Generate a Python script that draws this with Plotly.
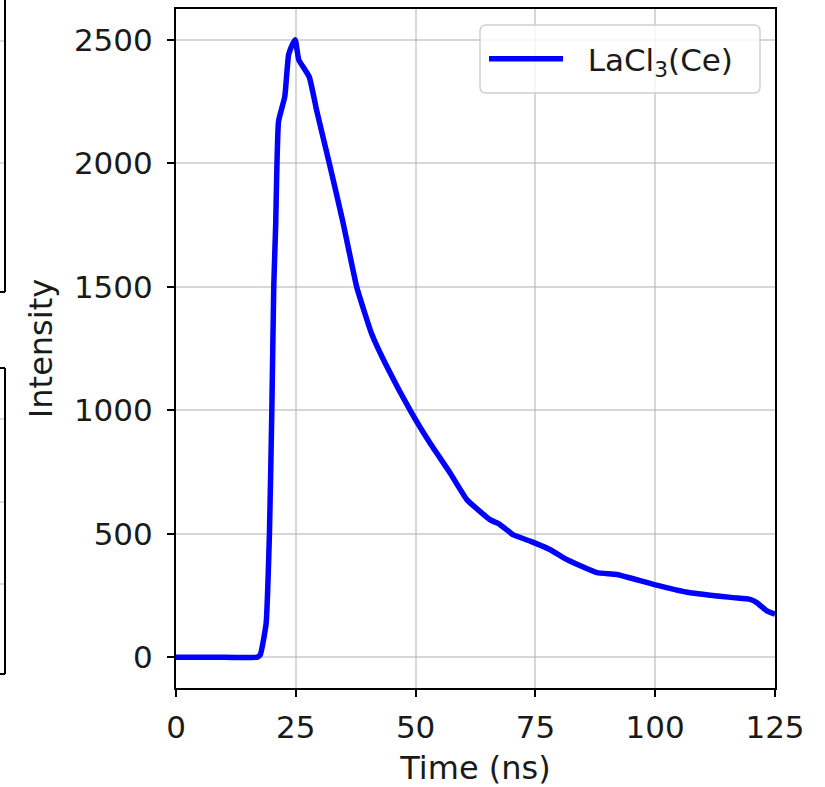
import plotly.graph_objects as go

# ---- data ----
time_ns = [0, 8.0, 17.0, 17.6, 18.8, 19.5, 20.0, 20.4, 20.8, 21.4, 22.7, 23.5, 24.4, 24.9,
           25.6, 27.8, 29.4, 32.0, 34.8, 37.7, 39.2, 40.8, 44.0, 49.2, 53.0, 57.2,
           60.7, 65.5, 67.6, 70.4, 73.9, 78.0, 81.5, 87.8, 92.0, 99.6, 107.3, 116.3,
           119.8, 121.2, 123.3, 125.0]
intensity = [0, 0, 0, 10, 135, 500, 1000, 1500, 1750, 2170, 2270, 2440, 2485, 2500,
             2420, 2350, 2210, 2000, 1765, 1500, 1405, 1311, 1177, 988, 867, 746,
             638, 557, 537, 495, 470, 436, 396, 342, 335, 295, 261, 241,
             234, 221, 187, 174]
series_name = "\u00a0\u00a0LaCl<sub>3</sub>(Ce)"
x_ticks = [0, 25, 50, 75, 100, 125]
y_ticks = [0, 500, 1000, 1500, 2000, 2500]

FONT = "DejaVu Sans"
TXT = "#1a1a1a"
W, H = 825, 787
L, R, T, B = 176, 50, 9, 99

fig = go.Figure()
fig.add_trace(go.Scatter(x=time_ns, y=intensity, mode="lines", name=series_name,
                         line=dict(color="#0000ff", width=5.5, shape="spline", smoothing=0.4),
                         showlegend=True))

axis_common = dict(showline=True, linecolor="black", linewidth=2, mirror=True,
                   ticks="outside", ticklen=7, tickwidth=2, tickcolor="black",
                   showgrid=True, gridcolor="rgba(176,176,176,0.5)", gridwidth=1.8,
                   zeroline=False, tickfont=dict(family=FONT, size=31, color=TXT))

fig.update_xaxes(range=[0, 125], tickvals=x_ticks, ticklabelstandoff=4,
                 title=dict(text="Time (ns)", font=dict(family=FONT, size=32, color=TXT), standoff=16),
                 **axis_common)
fig.update_yaxes(range=[-125, 2625], tickvals=y_ticks, ticklabelstandoff=8,
                 title=dict(text="Intensity", font=dict(family=FONT, size=32, color=TXT), standoff=12),
                 **axis_common)

def px(xp):
    return (xp - L) / (W - L - R)

def py(yp):
    return (H - B - yp) / (H - T - B)

shapes = []
# Cropped neighbouring panels at the far left edge (frames only)
frame = dict(type="line", xref="paper", yref="paper", line=dict(color="black", width=2))
shapes.append({**frame, "x0": px(5), "x1": px(5), "y0": py(-2), "y1": py(292)})
shapes.append({**frame, "x0": px(-5), "x1": px(5), "y0": py(292), "y1": py(292)})
shapes.append({**frame, "x0": px(5), "x1": px(5), "y0": py(368), "y1": py(674)})
shapes.append({**frame, "x0": px(-5), "x1": px(5), "y0": py(368), "y1": py(368)})
shapes.append({**frame, "x0": px(-5), "x1": px(5), "y0": py(674), "y1": py(674)})
grid = dict(type="line", xref="paper", yref="paper", line=dict(color="rgba(176,176,176,0.5)", width=1.8))
for gy in [41, 163, 419, 502, 584]:
    shapes.append({**grid, "x0": px(-5), "x1": px(4), "y0": py(gy), "y1": py(gy)})

# rounded legend frame (matplotlib style)
x0, x1, y0, y1, r = px(480), px(760), py(93), py(25), 6
rx = r / (W - L - R)
ry = r / (H - T - B)
path = (f"M {x0+rx},{y0} L {x1-rx},{y0} Q {x1},{y0} {x1},{y0+ry} "
        f"L {x1},{y1-ry} Q {x1},{y1} {x1-rx},{y1} L {x0+rx},{y1} "
        f"Q {x0},{y1} {x0},{y1-ry} L {x0},{y0+ry} Q {x0},{y0} {x0+rx},{y0} Z")
shapes.append(dict(type="path", xref="paper", yref="paper", path=path,
                   fillcolor="rgba(255,255,255,0.8)", line=dict(color="#d0d0d0", width=1.5),
                   layer="above"))

fig.update_layout(
    width=W, height=H,
    margin=dict(l=L, r=R, t=T, b=B, autoexpand=False),
    paper_bgcolor="white", plot_bgcolor="white",
    font=dict(family=FONT, size=31, color=TXT),
    shapes=shapes,
    legend=dict(x=px(484), y=py(59), xanchor="left", yanchor="middle",
                bgcolor="rgba(0,0,0,0)", borderwidth=0,
                font=dict(family=FONT, size=31, color=TXT), itemwidth=74),
)

fig.write_html("out.html")
